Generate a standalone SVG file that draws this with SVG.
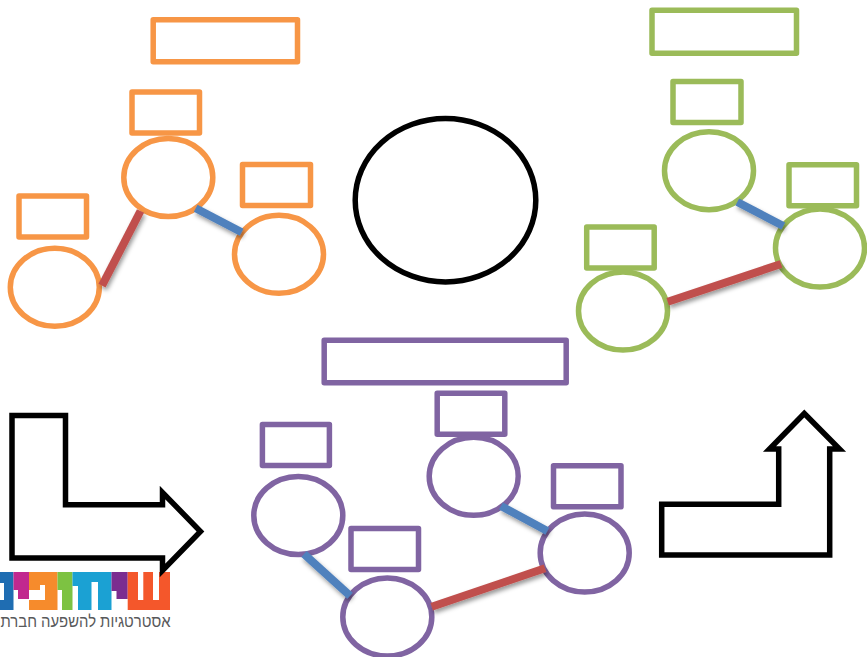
<svg xmlns="http://www.w3.org/2000/svg" width="867" height="657" viewBox="0 0 867 657">
  <style>
    .n { fill: none; stroke-width: 5.5; stroke-linejoin: round; }
    .o { stroke: #F79646; }
    .g { stroke: #9BBB59; }
    .p { stroke: #8064A2; }
    .k { fill: none; stroke: #000; stroke-width: 5.5; stroke-linejoin: miter; stroke-miterlimit: 8; }
    .c { stroke-width: 8; fill: none; filter: url(#sh); }
    .red { stroke: #C0504D; }
    .blue { stroke: #4F81BD; }
    .cap { font-family: "Liberation Sans", "Noto Sans", sans-serif; font-size: 16.5px; fill: #58595B; }
  </style>
  <defs>
    <filter id="sh" x="-30%" y="-30%" width="160%" height="170%">
      <feDropShadow dx="1.5" dy="3" stdDeviation="2" flood-color="#000" flood-opacity="0.4"/>
    </filter>
  </defs>
  <rect width="867" height="657" fill="#fff"/>

  <g id="logo">
    <polygon fill="#1F6DB2" points="0,572 13.5,572 13.5,610 0,610 0,600 4,600 4,583 0,583"/>
    <polygon fill="#C1288F" points="13.5,572 29,572 29,599 18,599 18,590 13.5,590"/>
    <polygon fill="#F68B2C" points="29,572 57.5,572 57.5,610 29,610 29,600 45,600 45,585 40,585 40,590 29,590"/>
    <polygon fill="#7DC242" points="57.5,572 72.5,572 72.5,610 62,610 62,590 57.5,590"/>
    <polygon fill="#1BA1D3" points="72.5,572 111.5,572 111.5,610 98,610 98,582 91.5,582 91.5,610 78,610 78,586 72.5,586"/>
    <polygon fill="#7B2D90" points="111.5,572 127.7,572 127.7,599 116.5,599 116.5,591 111.5,591"/>
    <polygon fill="#F4572B" points="127.7,572 138,572 138,600 143.3,600 143.3,572 153,572 153,600 159,600 159,572 170,572 170,610 127.7,610"/>
    <text id="logo-text" class="cap" x="170.5" y="627" direction="rtl" text-anchor="start" textLength="170" lengthAdjust="spacingAndGlyphs">אסטרטגיות להשפעה חברת</text>
  </g>

  <g id="arrow-left"><polygon class="k" points="12,415.5 65.5,415.5 65.5,504.7 162.5,504.7 162.5,492.5 200.5,531.5 162.5,570.5 162.5,558 12,558"/></g>
  <g id="arrow-right"><polygon class="k" points="661.7,504.3 778.7,504.3 778.7,449 769.5,449 804.3,413.5 839.5,449 829.7,449 829.7,555 661.7,555"/></g>
  <g id="center"><ellipse class="k" cx="445.5" cy="200.2" rx="90.3" ry="81.7"/></g>

  <g id="orange-title"><rect class="n o" x="153.2" y="19.8" width="144.3" height="42"/></g>
  <g id="orange-top"><rect class="n o" x="132" y="92" width="67.5" height="41"/><ellipse class="n o" cx="168.3" cy="177.5" rx="44.5" ry="39"/></g>
  <g id="orange-left"><rect class="n o" x="19" y="196" width="67.5" height="41"/><ellipse class="n o" cx="54.8" cy="287.3" rx="44.5" ry="39"/></g>
  <g id="orange-right"><rect class="n o" x="242.5" y="164.5" width="68" height="41"/><ellipse class="n o" cx="279" cy="254.3" rx="44.5" ry="39"/></g>

  <g id="green-title"><rect class="n g" x="652" y="10.2" width="144.5" height="43"/></g>
  <g id="green-top"><rect class="n g" x="673" y="81.5" width="68" height="41"/><ellipse class="n g" cx="709" cy="170.7" rx="44.5" ry="39"/></g>
  <g id="green-right"><rect class="n g" x="789" y="164.7" width="67.5" height="41"/><ellipse class="n g" cx="820" cy="248" rx="44.5" ry="39"/></g>
  <g id="green-left"><rect class="n g" x="586.7" y="227" width="67.5" height="41"/><ellipse class="n g" cx="623" cy="311" rx="44.5" ry="39"/></g>

  <g id="purple-title"><rect class="n p" x="324.2" y="340.2" width="242" height="42.6"/></g>
  <g id="purple-top"><rect class="n p" x="437.2" y="393.2" width="67.6" height="41"/><ellipse class="n p" cx="473.7" cy="476.3" rx="44.5" ry="39"/></g>
  <g id="purple-left"><rect class="n p" x="262.4" y="424.4" width="67" height="41"/><ellipse class="n p" cx="298.3" cy="515.5" rx="44.5" ry="39"/></g>
  <g id="purple-bottom"><rect class="n p" x="351" y="528.4" width="67.5" height="41"/><ellipse class="n p" cx="387.3" cy="617" rx="44.5" ry="39"/></g>
  <g id="purple-right"><rect class="n p" x="553.5" y="465.8" width="67.5" height="41"/><ellipse class="n p" cx="584.7" cy="553" rx="44.5" ry="39"/></g>

  <g id="connectors">
    <line class="c red" x1="102" y1="285.7" x2="140.5" y2="211"/>
    <line class="c blue" x1="195.7" y1="208.3" x2="241.7" y2="232.3"/>
    <line class="c blue" x1="737.3" y1="202" x2="783.3" y2="226"/>
    <line class="c red" x1="667.7" y1="301.7" x2="781" y2="264"/>
    <line class="c blue" x1="304" y1="554" x2="350" y2="595.7"/>
    <line class="c blue" x1="501" y1="506" x2="547.3" y2="531"/>
    <line class="c red" x1="431.7" y1="606.7" x2="545" y2="568.3"/>
  </g>
</svg>
